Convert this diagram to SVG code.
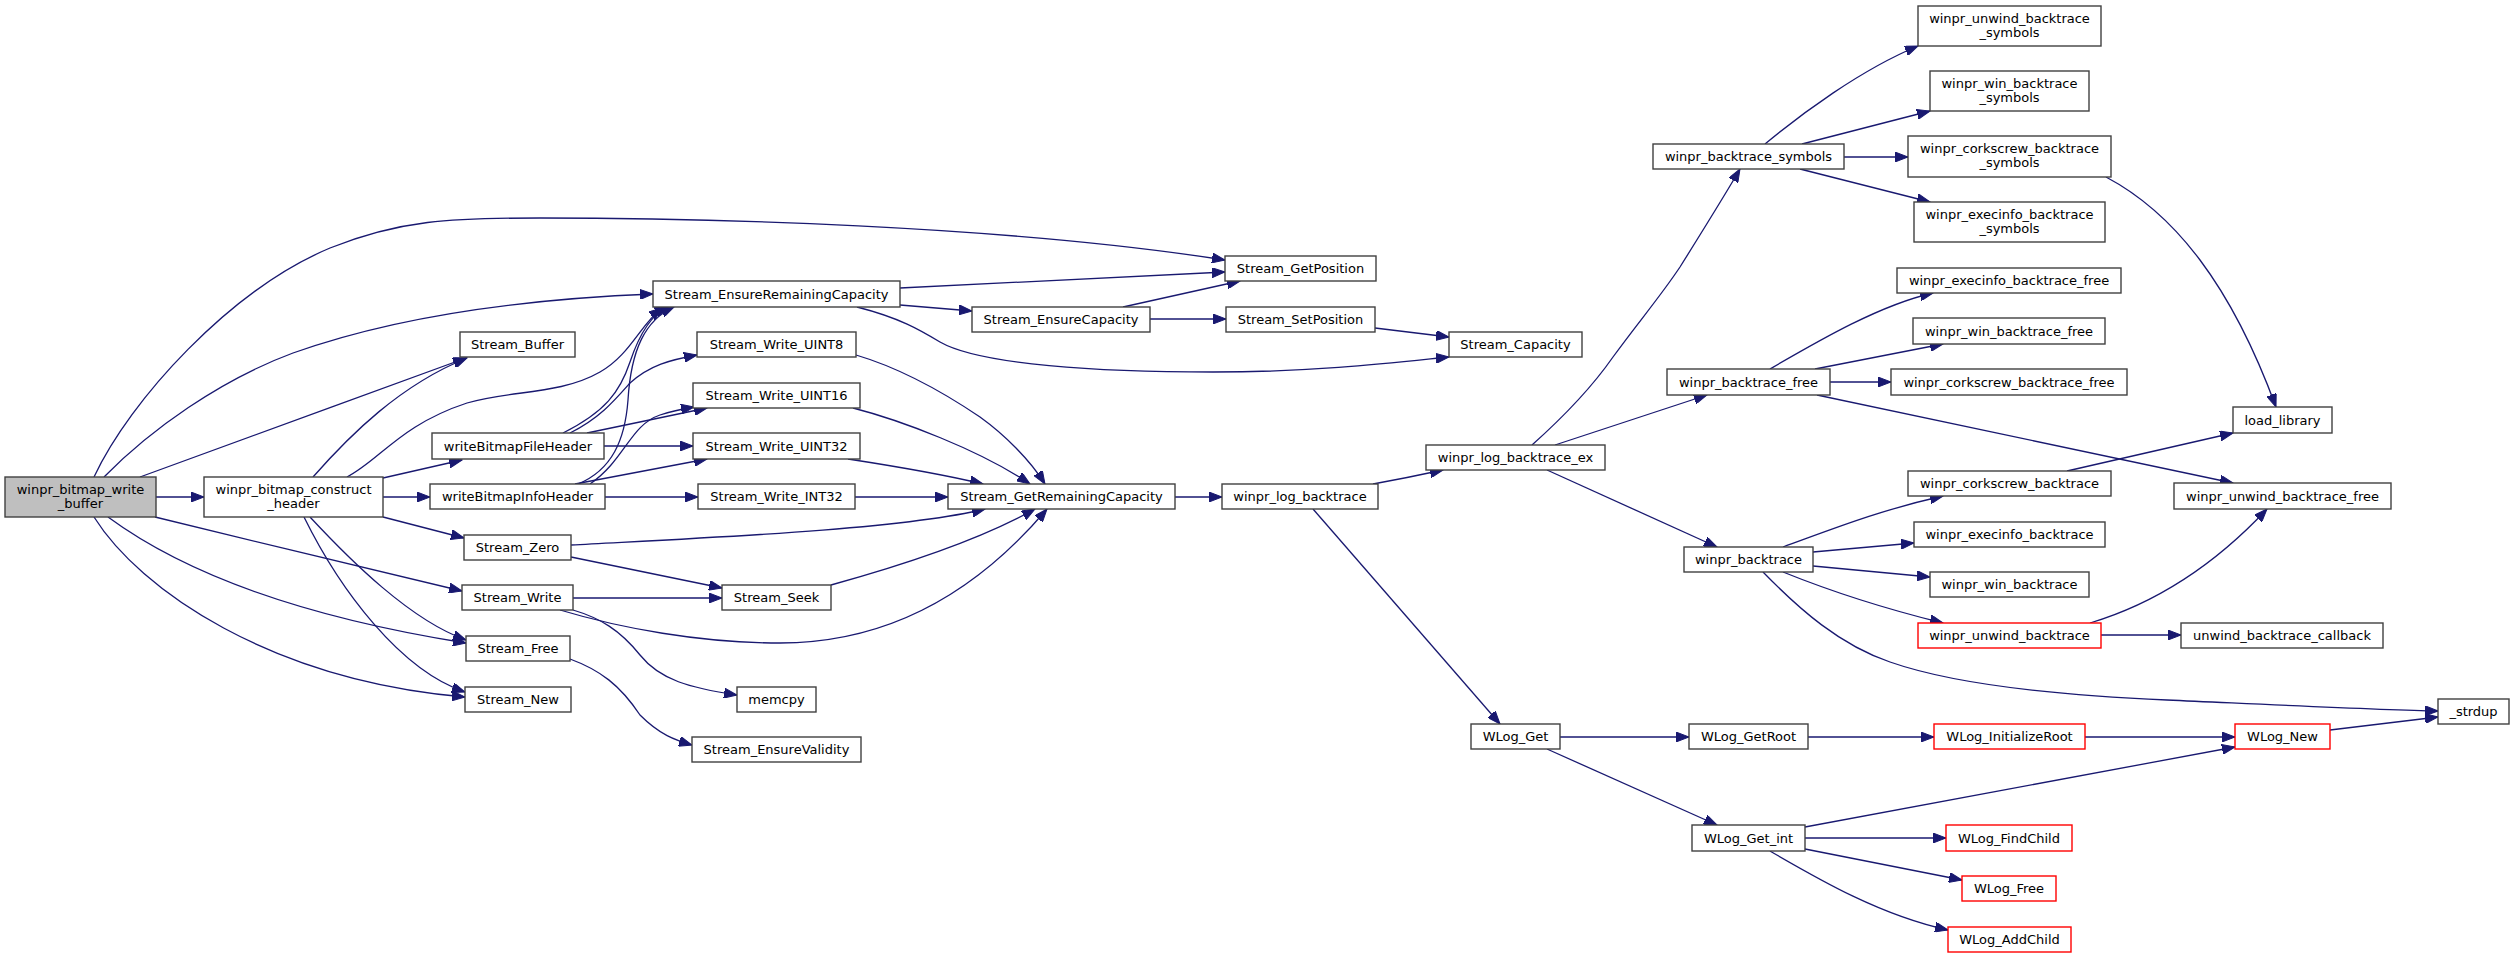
<svg xmlns="http://www.w3.org/2000/svg" width="2515" height="958" viewBox="0 0 2515 958">
<defs>
<marker id="ah" markerUnits="userSpaceOnUse" markerWidth="14" markerHeight="10" refX="13" refY="5" orient="auto">
<path d="M0,0 L13,5 L0,10 z" fill="#191970" stroke="#191970" stroke-width="1"/>
</marker>
<style>
.n rect{fill:#ffffff;stroke:#404040;stroke-width:1.4}
.r rect{fill:#ffffff;stroke:#ff0000;stroke-width:1.4}
.root rect{fill:#bfbfbf;stroke:#404040;stroke-width:1.4}
text{font-family:"DejaVu Sans","Liberation Sans",sans-serif;font-size:13px;fill:#000000;text-anchor:middle}
#edges path{fill:none;stroke:#191970;stroke-width:1.3;marker-end:url(#ah)}
</style>
</defs>
<rect x="0" y="0" width="2515" height="958" fill="#ffffff"/>
<g id="edges">
<path d="M94,477 C130,400 230,290 330,248 C400,220 450,218 540,218 C700,218 1000,225 1225,260"/>
<path d="M104,477 C150,430 220,380 293,353 C380,322 500,300 653,294"/>
<path d="M140,477 C240,440 360,397 466,358"/>
<path d="M156,497 L204,497"/>
<path d="M155,517 C250,540 380,572 462,591"/>
<path d="M108,517 C180,570 290,615 466,643"/>
<path d="M94,517 C140,590 270,680 465,697"/>
<path d="M313,477 C350,435 400,385 467,358"/>
<path d="M347,477 C380,460 400,425 467,403 C510,390 560,395 600,372 C630,355 640,325 662,308"/>
<path d="M383,478 L462,460"/>
<path d="M383,497 L430,497"/>
<path d="M383,517 L464,538"/>
<path d="M310,517 C350,560 410,620 466,640"/>
<path d="M304,517 C340,590 400,670 465,692"/>
<path d="M563,433 C605,412 620,392 630,362 C640,332 652,314 668,307"/>
<path d="M578,484 C612,470 625,440 628,400 C631,350 645,320 674,307"/>
<path d="M570,433 C600,418 615,400 630,383 C650,365 670,360 697,355"/>
<path d="M587,433 L707,408"/>
<path d="M604,446 L693,446"/>
<path d="M590,484 C625,460 630,425 660,415 C672,411 682,409 694,407"/>
<path d="M575,484 L707,459"/>
<path d="M605,497 L698,497"/>
<path d="M900,288 L1225,272"/>
<path d="M900,305 L972,311"/>
<path d="M857,307 C900,318 920,330 940,342 C980,365 1100,372 1213,372 C1320,372 1400,362 1449,357"/>
<path d="M1123,307 L1240,281"/>
<path d="M1150,319 L1226,319"/>
<path d="M1375,328 L1449,337"/>
<path d="M856,355 C900,368 940,390 980,417 C1005,435 1030,460 1045,484"/>
<path d="M853,408 C900,420 980,450 1030,484"/>
<path d="M848,459 C900,467 950,476 983,484"/>
<path d="M855,497 L948,497"/>
<path d="M571,545 C700,538 900,530 985,509"/>
<path d="M831,585 C900,566 980,540 1035,509"/>
<path d="M560,610 C620,628 700,643 780,643 C880,643 970,600 1047,509"/>
<path d="M571,557 L722,588"/>
<path d="M573,598 L722,598"/>
<path d="M573,610 C600,618 620,630 640,655 C660,680 690,688 737,695"/>
<path d="M570,659 C600,670 620,685 640,715 C660,735 675,740 692,745"/>
<path d="M1175,497 L1222,497"/>
<path d="M1373,484 C1395,480 1420,475 1443,470"/>
<path d="M1313,509 L1500,724"/>
<path d="M1532,445 C1560,420 1590,390 1613,357 C1640,320 1660,297 1680,267 C1700,235 1725,195 1740,169"/>
<path d="M1555,445 L1707,395"/>
<path d="M1547,470 L1717,547"/>
<path d="M1765,144 C1800,115 1860,70 1918,46"/>
<path d="M1802,144 L1930,111"/>
<path d="M1844,157 L1908,157"/>
<path d="M1800,169 L1930,202"/>
<path d="M2106,177 C2140,195 2170,220 2200,260 C2230,300 2255,350 2276,407"/>
<path d="M1770,369 C1820,340 1880,305 1933,293"/>
<path d="M1815,369 L1943,344"/>
<path d="M1830,382 L1891,382"/>
<path d="M1817,395 L2233,483"/>
<path d="M1783,547 C1830,530 1880,510 1943,496"/>
<path d="M1813,552 L1914,543"/>
<path d="M1813,566 L1930,577"/>
<path d="M1783,572 C1840,595 1890,610 1943,623"/>
<path d="M1763,572 C1800,610 1840,645 1890,662 C1950,683 2050,695 2167,700 C2300,706 2380,710 2438,711"/>
<path d="M2067,471 L2233,433"/>
<path d="M2090,623 C2150,605 2210,570 2267,509"/>
<path d="M2101,635 L2181,635"/>
<path d="M1560,737 L1689,737"/>
<path d="M1547,749 L1717,825"/>
<path d="M1808,737 L1934,737"/>
<path d="M2085,737 L2235,737"/>
<path d="M1805,827 L2235,747"/>
<path d="M1805,838 L1946,838"/>
<path d="M1805,849 L1962,880"/>
<path d="M1770,851 C1820,880 1880,915 1948,930"/>
<path d="M2330,730 L2438,717"/>
</g>
<g id="node1" class="root"><rect x="5" y="477" width="151" height="40"/><text x="80.5" y="493.5">winpr_bitmap_write</text><text x="80.5" y="508">_buffer</text></g>
<g id="node2" class="n"><rect x="204" y="477" width="179" height="40"/><text x="293.5" y="493.5">winpr_bitmap_construct</text><text x="293.5" y="508">_header</text></g>
<g id="node3" class="n"><rect x="460" y="332" width="115" height="25"/><text x="517.5" y="349">Stream_Buffer</text></g>
<g id="node4" class="n"><rect x="653" y="281" width="247" height="26"/><text x="776.5" y="298.5">Stream_EnsureRemainingCapacity</text></g>
<g id="node5" class="n"><rect x="432" y="433" width="172" height="26"/><text x="518" y="450.5">writeBitmapFileHeader</text></g>
<g id="node6" class="n"><rect x="430" y="484" width="175" height="25"/><text x="517.5" y="501">writeBitmapInfoHeader</text></g>
<g id="node7" class="n"><rect x="464" y="535" width="107" height="25"/><text x="517.5" y="552">Stream_Zero</text></g>
<g id="node8" class="n"><rect x="462" y="585" width="111" height="25"/><text x="517.5" y="602">Stream_Write</text></g>
<g id="node9" class="n"><rect x="466" y="636" width="104" height="25"/><text x="518" y="653">Stream_Free</text></g>
<g id="node10" class="n"><rect x="465" y="687" width="106" height="25"/><text x="518" y="704">Stream_New</text></g>
<g id="node11" class="n"><rect x="697" y="332" width="159" height="25"/><text x="776.5" y="349">Stream_Write_UINT8</text></g>
<g id="node12" class="n"><rect x="693" y="383" width="167" height="25"/><text x="776.5" y="400">Stream_Write_UINT16</text></g>
<g id="node13" class="n"><rect x="693" y="433" width="167" height="26"/><text x="776.5" y="450.5">Stream_Write_UINT32</text></g>
<g id="node14" class="n"><rect x="698" y="484" width="157" height="25"/><text x="776.5" y="501">Stream_Write_INT32</text></g>
<g id="node15" class="n"><rect x="722" y="585" width="109" height="25"/><text x="776.5" y="602">Stream_Seek</text></g>
<g id="node16" class="n"><rect x="737" y="687" width="79" height="25"/><text x="776.5" y="704">memcpy</text></g>
<g id="node17" class="n"><rect x="692" y="737" width="169" height="25"/><text x="776.5" y="754">Stream_EnsureValidity</text></g>
<g id="node18" class="n"><rect x="1225" y="256" width="151" height="25"/><text x="1300.5" y="273">Stream_GetPosition</text></g>
<g id="node19" class="n"><rect x="972" y="307" width="178" height="25"/><text x="1061" y="324">Stream_EnsureCapacity</text></g>
<g id="node20" class="n"><rect x="1226" y="307" width="149" height="25"/><text x="1300.5" y="324">Stream_SetPosition</text></g>
<g id="node21" class="n"><rect x="948" y="484" width="227" height="25"/><text x="1061.5" y="501">Stream_GetRemainingCapacity</text></g>
<g id="node22" class="n"><rect x="1222" y="484" width="156" height="25"/><text x="1300" y="501">winpr_log_backtrace</text></g>
<g id="node23" class="n"><rect x="1449" y="332" width="133" height="25"/><text x="1515.5" y="349">Stream_Capacity</text></g>
<g id="node24" class="n"><rect x="1426" y="445" width="179" height="25"/><text x="1515.5" y="462">winpr_log_backtrace_ex</text></g>
<g id="node25" class="n"><rect x="1653" y="144" width="191" height="25"/><text x="1748.5" y="161">winpr_backtrace_symbols</text></g>
<g id="node26" class="n"><rect x="1667" y="369" width="163" height="26"/><text x="1748.5" y="386.5">winpr_backtrace_free</text></g>
<g id="node27" class="n"><rect x="1684" y="547" width="129" height="25"/><text x="1748.5" y="564">winpr_backtrace</text></g>
<g id="node28" class="n"><rect x="1471" y="724" width="89" height="25"/><text x="1515.5" y="741">WLog_Get</text></g>
<g id="node29" class="n"><rect x="1689" y="724" width="119" height="25"/><text x="1748.5" y="741">WLog_GetRoot</text></g>
<g id="node30" class="n"><rect x="1692" y="825" width="113" height="26"/><text x="1748.5" y="842.5">WLog_Get_int</text></g>
<g id="node31" class="n"><rect x="1918" y="6" width="183" height="40"/><text x="2009.5" y="22.5">winpr_unwind_backtrace</text><text x="2009.5" y="37">_symbols</text></g>
<g id="node32" class="n"><rect x="1930" y="71" width="159" height="40"/><text x="2009.5" y="87.5">winpr_win_backtrace</text><text x="2009.5" y="102">_symbols</text></g>
<g id="node33" class="n"><rect x="1908" y="136" width="203" height="41"/><text x="2009.5" y="152.5">winpr_corkscrew_backtrace</text><text x="2009.5" y="167">_symbols</text></g>
<g id="node34" class="n"><rect x="1914" y="202" width="191" height="40"/><text x="2009.5" y="218.5">winpr_execinfo_backtrace</text><text x="2009.5" y="233">_symbols</text></g>
<g id="node35" class="n"><rect x="1897" y="268" width="224" height="25"/><text x="2009" y="285">winpr_execinfo_backtrace_free</text></g>
<g id="node36" class="n"><rect x="1913" y="318" width="192" height="26"/><text x="2009" y="335.5">winpr_win_backtrace_free</text></g>
<g id="node37" class="n"><rect x="1891" y="369" width="236" height="26"/><text x="2009" y="386.5">winpr_corkscrew_backtrace_free</text></g>
<g id="node38" class="n"><rect x="1908" y="471" width="203" height="25"/><text x="2009.5" y="488">winpr_corkscrew_backtrace</text></g>
<g id="node39" class="n"><rect x="1914" y="522" width="191" height="25"/><text x="2009.5" y="539">winpr_execinfo_backtrace</text></g>
<g id="node40" class="n"><rect x="1930" y="572" width="159" height="25"/><text x="2009.5" y="589">winpr_win_backtrace</text></g>
<g id="node41" class="r"><rect x="1918" y="623" width="183" height="25"/><text x="2009.5" y="640">winpr_unwind_backtrace</text></g>
<g id="node42" class="r"><rect x="1934" y="724" width="151" height="25"/><text x="2009.5" y="741">WLog_InitializeRoot</text></g>
<g id="node43" class="r"><rect x="1946" y="825" width="126" height="26"/><text x="2009" y="842.5">WLog_FindChild</text></g>
<g id="node44" class="r"><rect x="1962" y="876" width="94" height="25"/><text x="2009" y="893">WLog_Free</text></g>
<g id="node45" class="r"><rect x="1948" y="927" width="123" height="25"/><text x="2009.5" y="944">WLog_AddChild</text></g>
<g id="node46" class="n"><rect x="2233" y="407" width="99" height="26"/><text x="2282.5" y="424.5">load_library</text></g>
<g id="node47" class="n"><rect x="2174" y="483" width="217" height="26"/><text x="2282.5" y="500.5">winpr_unwind_backtrace_free</text></g>
<g id="node48" class="n"><rect x="2181" y="623" width="202" height="25"/><text x="2282" y="640">unwind_backtrace_callback</text></g>
<g id="node49" class="r"><rect x="2235" y="724" width="95" height="25"/><text x="2282.5" y="741">WLog_New</text></g>
<g id="node50" class="n"><rect x="2438" y="699" width="71" height="25"/><text x="2473.5" y="716">_strdup</text></g>
</svg>
